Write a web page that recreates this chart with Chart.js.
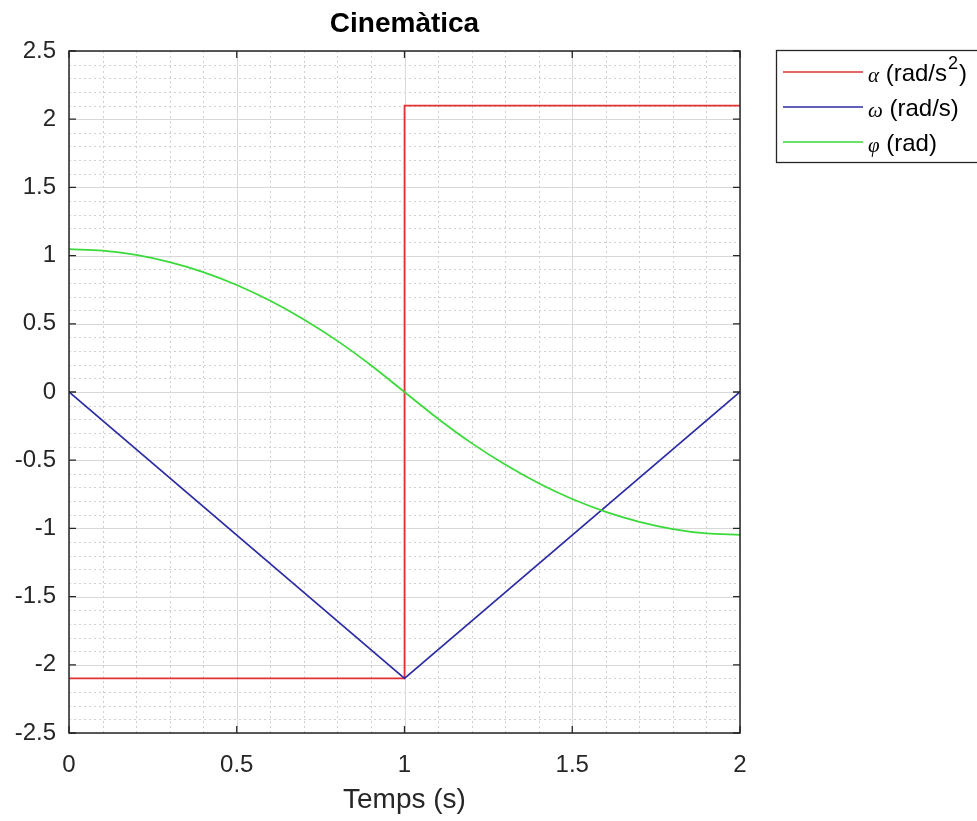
<!DOCTYPE html>
<html>
<head>
<meta charset="utf-8">
<script src="https://cdn.jsdelivr.net/npm/chart.js@4/dist/chart.umd.min.js"></script>
<style>
  html, body { margin: 0; padding: 0; background: #ffffff; }
  #wrap { width: 977px; height: 821px; }
</style>
</head>
<body>
<div id="wrap"><canvas id="c" width="977" height="821"></canvas></div>
<script>
// ---------------- data ----------------
const chartTitle = 'Cinemàtica';
const xAxisTitle = 'Temps (s)';
const seriesLabels = ['α (rad/s²)', 'ω (rad/s)', 'φ (rad)'];
const seriesColors = ['#e03232', '#2c2ca4', '#3ada3a'];

// angular acceleration (step at t = 1 s)
const tAlpha = [0, 1, 1, 2];
const alphaVals = [-2.1, -2.1, 2.1, 2.1];

// angular velocity (V shape)
const tOmega = [0, 1, 2];
const omegaVals = [0, -2.1, 0];

// angle
const tPhi = [0, 0.1, 0.2, 0.3, 0.4, 0.5, 0.6, 0.7, 0.8, 0.9, 1.0,
              1.1, 1.2, 1.3, 1.4, 1.5, 1.6, 1.7, 1.8, 1.9, 2.0];
const phiVals = [1.047, 1.037, 1.005, 0.952, 0.879, 0.785, 0.669, 0.532, 0.375, 0.196, 0,
                 -0.196, -0.375, -0.532, -0.669, -0.785, -0.879, -0.952, -1.005, -1.037, -1.047];

// axes
const xMajorTicks = [0, 0.5, 1, 1.5, 2];
const yMajorTicks = [-2.5, -2, -1.5, -1, -0.5, 0, 0.5, 1, 1.5, 2, 2.5];
const xRange = [0, 2];
const yRange = [-2.5, 2.5];
const minorStep = 0.1;

// ---------------- helpers ----------------
const FONT = '"Liberation Sans", Arial, Helvetica, sans-serif';
const AXIS_COLOR = '#262626';
function isMajor(v, list) { return list.some(m => Math.abs(m - v) < 1e-6); }
function pts(xs, ys) { return xs.map((x, i) => ({ x: x, y: ys[i] })); }

// grid (major solid, minor dotted) drawn from the library's scales
const gridPlugin = {
  id: 'matlabGrid',
  beforeDatasetsDraw(chart) {
    const { ctx, chartArea: a, scales: { x, y } } = chart;
    ctx.save();
    ctx.lineWidth = 1;
    const drawLine = (x0, y0, x1, y1, major) => {
      ctx.strokeStyle = major ? '#d8d8d8' : '#d0d0d0';
      ctx.setLineDash(major ? [] : [2, 3]);
      ctx.beginPath(); ctx.moveTo(x0, y0); ctx.lineTo(x1, y1); ctx.stroke();
    };
    [false, true].forEach(pass => {
      x.ticks.forEach(t => {
        const m = isMajor(t.value, xMajorTicks);
        if (m !== pass) return;
        const px = Math.round(x.getPixelForValue(t.value)) + 0.5;
        drawLine(px, a.top, px, a.bottom, m);
      });
      y.ticks.forEach(t => {
        const m = isMajor(t.value, yMajorTicks);
        if (m !== pass) return;
        const py = Math.round(y.getPixelForValue(t.value)) + 0.5;
        drawLine(a.left, py, a.right, py, m);
      });
    });
    ctx.restore();
  },
  afterDatasetsDraw(chart) {
    const { ctx, chartArea: a, scales: { x, y } } = chart;
    ctx.save();
    ctx.setLineDash([]);
    ctx.strokeStyle = AXIS_COLOR;
    ctx.lineWidth = 1.5;
    ctx.strokeRect(a.left, a.top, a.right - a.left, a.bottom - a.top);
    const L = 7;
    ctx.lineWidth = 1.3;
    ctx.beginPath();
    xMajorTicks.forEach(v => {
      const px = x.getPixelForValue(v);
      ctx.moveTo(px, a.bottom); ctx.lineTo(px, a.bottom - L);
      ctx.moveTo(px, a.top); ctx.lineTo(px, a.top + L);
    });
    yMajorTicks.forEach(v => {
      const py = y.getPixelForValue(v);
      ctx.moveTo(a.left, py); ctx.lineTo(a.left + L, py);
      ctx.moveTo(a.right, py); ctx.lineTo(a.right - L, py);
    });
    ctx.stroke();
    ctx.restore();
  }
};

// MATLAB-like legend box outside the axes, at top right
const legendPlugin = {
  id: 'matlabLegend',
  afterDraw(chart) {
    const { ctx } = chart;
    const box = { left: 776, top: 50, right: 990, bottom: 162 };
    const row0 = 72, gap = 35, lx0 = 783, lx1 = 863, tx = 868;
    ctx.save();
    ctx.fillStyle = '#ffffff';
    ctx.fillRect(box.left, box.top, box.right - box.left, box.bottom - box.top);
    ctx.strokeStyle = AXIS_COLOR;
    ctx.lineWidth = 1.3;
    ctx.strokeRect(box.left + 0.5, box.top + 0.5, box.right - box.left, box.bottom - box.top);
    chart.data.datasets.forEach((ds, i) => {
      const yy = row0 + i * gap;
      ctx.strokeStyle = ds.borderColor;
      ctx.lineWidth = 1.6;
      ctx.beginPath(); ctx.moveTo(lx0, yy); ctx.lineTo(lx1, yy); ctx.stroke();
      const label = ds.label;
      const sym = label.charAt(0);
      const rest = label.slice(1);
      ctx.fillStyle = '#000000';
      ctx.textBaseline = 'middle';
      ctx.textAlign = 'left';
      let cx = tx;
      ctx.font = 'italic 21px "Liberation Serif", "DejaVu Serif", serif';
      ctx.fillText(sym, cx, yy + 4);
      cx += ctx.measureText(sym).width;
      ctx.font = '24px ' + FONT;
      const supIdx = rest.indexOf('²');
      if (supIdx >= 0) {
        const before = rest.slice(0, supIdx), after = rest.slice(supIdx + 1);
        ctx.fillText(before, cx, yy + 2);
        cx += ctx.measureText(before).width;
        ctx.font = '18px ' + FONT;
        ctx.fillText('2', cx + 1, yy - 8);
        cx += ctx.measureText('2').width + 2;
        ctx.font = '24px ' + FONT;
        ctx.fillText(after, cx, yy + 2);
      } else {
        ctx.fillText(rest, cx, yy + 2);
      }
    });
    ctx.restore();
  }
};

const lineCommon = { pointRadius: 0, pointHoverRadius: 0, borderWidth: 1.7, fill: false };

new Chart(document.getElementById('c'), {
  type: 'line',
  data: {
    datasets: [
      Object.assign({ label: seriesLabels[0], data: pts(tAlpha, alphaVals), borderColor: seriesColors[0], backgroundColor: seriesColors[0], order: 3, tension: 0 }, lineCommon),
      Object.assign({ label: seriesLabels[1], data: pts(tOmega, omegaVals), borderColor: seriesColors[1], backgroundColor: seriesColors[1], order: 2, tension: 0 }, lineCommon),
      Object.assign({ label: seriesLabels[2], data: pts(tPhi, phiVals), borderColor: seriesColors[2], backgroundColor: seriesColors[2], order: 1, cubicInterpolationMode: 'monotone' }, lineCommon)
    ]
  },
  options: {
    responsive: false,
    animation: false,
    devicePixelRatio: 1,
    layout: { padding: { left: 0, right: 237, top: 0, bottom: 0 } },
    plugins: {
      legend: { display: false },
      tooltip: { enabled: false },
      title: {
        display: true,
        text: chartTitle,
        fullSize: false,
        color: '#000000',
        font: { family: FONT, size: 28, weight: 'bold', lineHeight: 1.2 },
        padding: { top: 7, bottom: 10.4 }
      }
    },
    scales: {
      x: {
        type: 'linear',
        min: xRange[0], max: xRange[1],
        grid: { display: false, drawTicks: false },
        border: { display: false },
        ticks: {
          stepSize: minorStep,
          autoSkip: false,
          maxRotation: 0,
          padding: 18,
          color: AXIS_COLOR,
          font: { family: FONT, size: 24 },
          callback: (v) => isMajor(v, xMajorTicks) ? String(Math.round(v * 10) / 10) : ''
        },
        title: {
          display: true,
          text: xAxisTitle,
          color: AXIS_COLOR,
          font: { family: FONT, size: 28, lineHeight: 1.2 },
          padding: { top: 0, bottom: 4 }
        },
        afterFit: (s) => { s.height = 88; }
      },
      y: {
        type: 'linear',
        min: yRange[0], max: yRange[1],
        grid: { display: false, drawTicks: false },
        border: { display: false },
        ticks: {
          stepSize: minorStep,
          autoSkip: false,
          padding: 13,
          color: AXIS_COLOR,
          font: { family: FONT, size: 24 },
          callback: (v) => isMajor(v, yMajorTicks) ? String(Math.round(v * 10) / 10) : ''
        },
        afterFit: (s) => { s.width = 69; }
      }
    }
  },
  plugins: [gridPlugin, legendPlugin]
});
</script>
</body>
</html>
